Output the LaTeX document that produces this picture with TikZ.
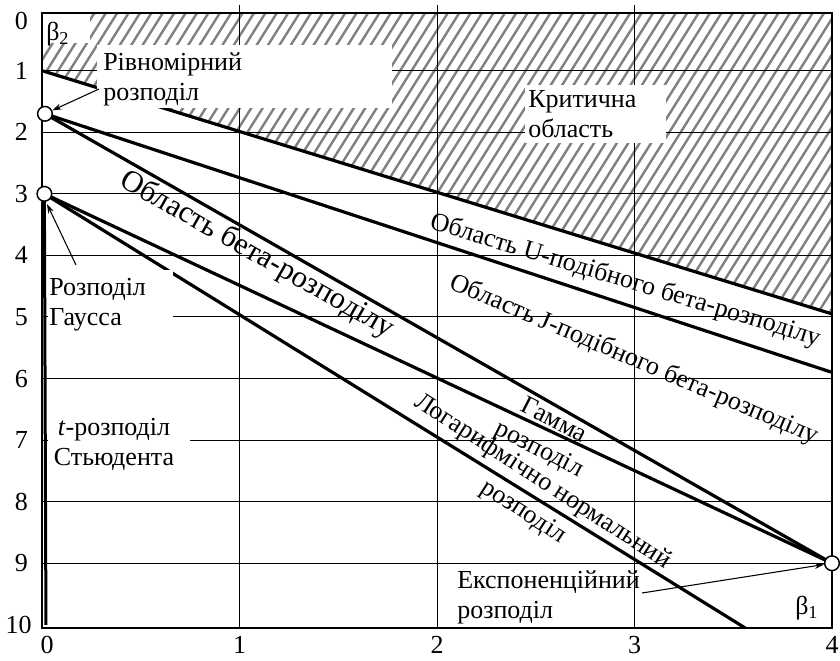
\documentclass[tikz,border=0pt]{standalone}
\usepackage{fontspec}
\setmainfont{Liberation Serif}
\usetikzlibrary{arrows.meta}
\begin{document}
\begin{tikzpicture}[x=0.75pt,y=-0.75pt,
  lbl/.style={inner sep=0pt, font=\fontsize{19.5}{22.5}\selectfont},
  gridln/.style={line width=0.75pt},
  heavy/.style={line width=2.4pt},
  hatchln/.style={gray, line width=1.8pt},
  markcircle/.style={circle, draw, fill=white, line width=1.1pt, minimum size=11pt, inner sep=0pt},
  pointer/.style={line width=0.8pt, -{Stealth[length=7pt,width=4.5pt]}},
  whitebox/.style={fill=white}
]
\useasboundingbox (0,0) rectangle (840,661);
% ---------- data scope ----------
\begin{scope}[shift={(42,9.1)}, x=148.125pt, y=-46.18pt]
  \coordinate (F0) at (0,0.058);
  \coordinate (F1) at (4,0.058);
  \coordinate (F2) at (4,10.055);
  \coordinate (K0) at (0,1);
  \coordinate (K4) at (4,4.95);
  \coordinate (P1) at (0.015,1.7);
  \coordinate (P2) at (0.012,3);
  \coordinate (P3) at (4,9);
  \coordinate (E2) at (4,5.9);
  \coordinate (LN) at (3.56,10.05);
  \coordinate (T10) at (0.02,10.0);
\end{scope}
% hatch of the critical region
\begin{scope}
  \clip (F0) -- (F1) -- (K4) -- (K0) -- cycle;
  \foreach \k in {0,...,100} \draw[hatchln] ({\k*11.4-440},700) -- ({\k*11.4},0);
\end{scope}
% grid
\begin{scope}[shift={(42,9.1)}, x=148.125pt, y=-46.18pt]
  \foreach \i in {1,...,9} \draw[gridln] (0,\i) -- (4,\i);
  \foreach \i in {1,2,3} \draw[gridln] (\i,-0.06) -- (\i,10.055);
\end{scope}
% heavy lines
\draw[heavy] (K0) -- (K4);
\draw[heavy] (P1) -- (E2);
\draw[heavy] (P1) -- (P3);
\draw[heavy] (P2) -- (P3);
\draw[heavy] (P2) -- (LN);
\draw[line width=2.25pt] (P2) -- (T10);
% white boxes behind labels
\fill[whitebox] (42.5,13.5) rectangle (90,43);
\fill[whitebox] (97,45) rectangle (392,108);
\fill[whitebox] (525,85) rectangle (666,143);
\fill[whitebox] (48,270) rectangle (173,335);
\fill[whitebox] (48,412) rectangle (190,470);
% frame
\draw[line width=1.4pt] (F0) rectangle (F2);
% tick labels
\node[lbl] (y0) at (21.5,21) {0};
\node[lbl] (y1) at (21.5,70.7) {1};
\node[lbl] (y2) at (21.5,132.25) {2};
\node[lbl] (y3) at (21.5,193.8) {3};
\node[lbl] (y4) at (21.5,255.4) {4};
\node[lbl] (y5) at (21.5,317) {5};
\node[lbl] (y6) at (21.5,378.6) {6};
\node[lbl] (y7) at (21.5,440.1) {7};
\node[lbl] (y8) at (21.5,501.7) {8};
\node[lbl] (y9) at (21.5,563.3) {9};
\node[lbl] (y10) at (18.5,624.9) {10};
\node[lbl] (x0) at (47,645) {0};
\node[lbl] (x1) at (239.5,645) {1};
\node[lbl] (x2) at (437,645) {2};
\node[lbl] (x3) at (634.5,645) {3};
\node[lbl] (x4) at (832,645) {4};
% axis names
\node[lbl, anchor=base west] (b2) at (46,40) {β\textsubscript{2}};
\node[lbl, anchor=base west] (b1) at (795,614) {β\textsubscript{1}};
% labels
\node[lbl, anchor=north west, align=left] (unif) at (103,52) {Рівномірний\\розподіл};
\node[lbl, anchor=north west, align=left] (crit) at (528,90) {Критична\\область};
\node[lbl, anchor=north west, align=left] (gauss) at (49,278) {Розподіл\\Гаусса};
\node[lbl, anchor=north, align=center] (stud) at (114,418) {\textit{t}-розподіл\\Стьюдента};
\node[lbl, anchor=north west, align=left] (expo) at (457,570) {Експоненційний\\розподіл};
\node[lbl, rotate=-29.6, font=\fontsize{23}{26}\selectfont] (beta) at (257,255) {Область бета-розподілу};
\node[lbl, rotate=-16.8] (ubeta) at (625,281) {Область U-подібного бета-розподілу};
\node[lbl, rotate=-23] (jbeta) at (634,360) {Область J-подібного бета-розподілу};
\node[lbl, rotate=-27, align=center] (gamma) at (546,436) {Гамма\\[1.5pt]розподіл};
\node[lbl, rotate=-33, align=center] (logn) at (533,497) {Логарифмічно нормальний\\[4.5pt]розподіл};
% marked points
\node[markcircle] (c1) at (P1) {};
\node[markcircle] (c2) at (P2) {};
\node[markcircle] (c3) at (P3) {};
% pointers
\coordinate (a1) at (99,89);
\coordinate (a2) at (76,265);
\coordinate (a2e) at (47,204);
\coordinate (a3) at (642,593);
\draw[pointer] (a1) -- (c1);
\draw[pointer] (a2) -- (a2e);
\draw[pointer] (a3) -- (c3);
\end{tikzpicture}
\end{document}
